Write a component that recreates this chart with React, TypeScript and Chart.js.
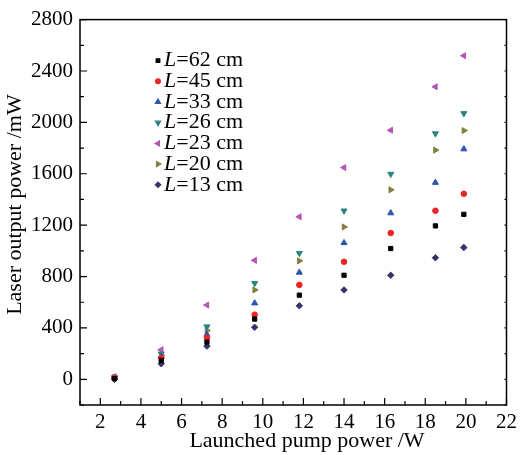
import React, { useEffect, useRef } from 'react';
import { Chart, registerables } from 'chart.js';
import { drawPoint } from 'chart.js/helpers';

Chart.register(...registerables);

const pumpPower = [2.7, 5.0, 7.25, 9.6, 11.8, 14.0, 16.3, 18.5, 19.9];
const L62 = [5, 147, 289, 469, 655, 810, 1018, 1194, 1284];
const L45 = [10, 168, 322, 503, 735, 915, 1139, 1312, 1444];
const L33 = [12, 178, 348, 593, 832, 1062, 1294, 1531, 1792];
const L26 = [15, 199, 410, 748, 982, 1312, 1598, 1913, 2070];
const L23 = [20, 230, 578, 926, 1265, 1648, 1939, 2277, 2519];
const L20 = [15, 186, 379, 696, 922, 1186, 1475, 1784, 1936];
const L13 = [0, 121, 258, 405, 572, 696, 810, 946, 1026];

const seriesLabels = ['62 cm', '45 cm', '33 cm', '26 cm', '23 cm', '20 cm', '13 cm'];
const xTicks = [2, 4, 6, 8, 10, 12, 14, 16, 18, 20, 22];
const yTicks = [0, 400, 800, 1200, 1600, 2000, 2400, 2800];
const xTitle = 'Launched pump power /W';
const yTitle = 'Laser output power /mW';

const FONT = "'Liberation Serif', 'DejaVu Serif', serif";

const seriesValues = [L62, L45, L33, L26, L23, L20, L13];
const styles = [
  { color: '#000000', pointStyle: 'rect', rotation: 0, radius: 3 },
  { color: '#ee2424', pointStyle: 'circle', rotation: 0, radius: 2.8 },
  { color: '#2d56b0', pointStyle: 'triangle', rotation: 0, radius: 3.5 },
  { color: '#2a8484', pointStyle: 'triangle', rotation: 180, radius: 3.5 },
  { color: '#b457b4', pointStyle: 'triangle', rotation: 270, radius: 3.5 },
  { color: '#828040', pointStyle: 'triangle', rotation: 90, radius: 3.5 },
  { color: '#34346c', pointStyle: 'rectRot', rotation: 0, radius: 3.2 },
];

const framePlugin = {
  id: 'frame',
  afterDraw(chart: any) {
    const { ctx, chartArea: a, scales } = chart;
    const xs = scales.x;
    const ys = scales.y;
    ctx.save();
    ctx.strokeStyle = '#000';
    ctx.lineWidth = 1.5;
    ctx.strokeRect(a.left, a.top, a.right - a.left, a.bottom - a.top);
    ctx.lineWidth = 1.2;
    ctx.beginPath();
    for (let v = 1; v <= 22; v += 1) {
      const px = xs.getPixelForValue(v);
      const len = v % 2 === 0 ? 7 : 4;
      ctx.moveTo(px, a.bottom);
      ctx.lineTo(px, a.bottom - len);
    }
    for (let v = -200; v <= 2800; v += 200) {
      const py = ys.getPixelForValue(v);
      const len = v % 400 === 0 ? 7 : 4;
      ctx.moveTo(a.left, py);
      ctx.lineTo(a.left + len, py);
      ctx.moveTo(a.right, py);
      ctx.lineTo(a.right - 2, py);
    }
    ctx.stroke();

    // axis titles
    ctx.fillStyle = '#000';
    ctx.font = `22px ${FONT}`;
    ctx.textAlign = 'center';
    ctx.textBaseline = 'middle';
    ctx.fillText(xTitle, a.left + 227, a.bottom + 36);
    ctx.save();
    ctx.translate(15, a.top + 185);
    ctx.rotate(-Math.PI / 2);
    ctx.fillText(yTitle, 0, 0);
    ctx.restore();

    // legend
    const mx = a.left + 78;
    const ty = a.top + 41;
    const step = 20.7;
    chart.data.datasets.forEach((ds: any, i: number) => {
      const y = ty + i * step;
      const st = styles[i];
      ctx.fillStyle = st.color;
      ctx.strokeStyle = st.color;
      drawPoint(ctx, { pointStyle: st.pointStyle, radius: st.radius * 0.85, rotation: st.rotation, borderWidth: 1 } as any, mx, y);
      ctx.fillStyle = '#000';
      ctx.textBaseline = 'middle';
      ctx.textAlign = 'left';
      ctx.font = `italic 22px ${FONT}`;
      const tx = mx + 6;
      ctx.fillText('L', tx, y);
      const w = ctx.measureText('L').width;
      ctx.font = `22px ${FONT}`;
      ctx.fillText('=' + seriesLabels[i], tx + w, y);
    });
    ctx.restore();
  },
};

export default function App() {
  const ref = useRef<HTMLCanvasElement | null>(null);
  useEffect(() => {
    if (!ref.current) return;
    const chart = new Chart(ref.current, {
      type: 'scatter',
      data: {
        datasets: seriesValues.map((vals, i) => ({
          label: 'L=' + seriesLabels[i],
          data: vals.map((v, j) => ({ x: pumpPower[j], y: v })),
          pointStyle: styles[i].pointStyle as any,
          rotation: styles[i].rotation,
          pointRadius: styles[i].radius,
          backgroundColor: styles[i].color,
          borderColor: styles[i].color,
          borderWidth: 1,
          showLine: false,
        })),
      },
      options: {
        animation: false,
        responsive: true,
        maintainAspectRatio: false,
        layout: { padding: { top: 17, right: 10, left: 0, bottom: 0 } },
        plugins: { legend: { display: false }, tooltip: { enabled: false } },
        scales: {
          x: {
            type: 'linear',
            min: 1,
            max: 22,
            grid: { display: false, drawTicks: false, tickLength: 0 },
            border: { display: false },
            afterBuildTicks: (s: any) => { s.ticks = xTicks.map((v) => ({ value: v })); },
            afterFit: (s: any) => { s.height = 50; },
            ticks: { color: '#000', padding: 5, font: { family: FONT, size: 21 }, maxRotation: 0, autoSkip: false, callback: (v: any) => String(v) },
            title: { display: false },
          },
          y: {
            type: 'linear',
            min: -200,
            max: 2800,
            grid: { display: false, drawTicks: false, tickLength: 0 },
            border: { display: false },
            afterBuildTicks: (s: any) => { s.ticks = yTicks.map((v) => ({ value: v })); },
            afterFit: (s: any) => { s.width = 80; },
            ticks: { color: '#000', padding: 7, font: { family: FONT, size: 21 }, autoSkip: false, callback: (v: any) => String(v) },
            title: { display: false },
          },
        },
      },
      plugins: [framePlugin],
    });
    return () => chart.destroy();
  }, []);
  return (
    <div style={{ position: 'absolute', left: 0, top: 0, width: 522, height: 455, background: '#fff' }}>
      <canvas ref={ref} />
    </div>
  );
}
